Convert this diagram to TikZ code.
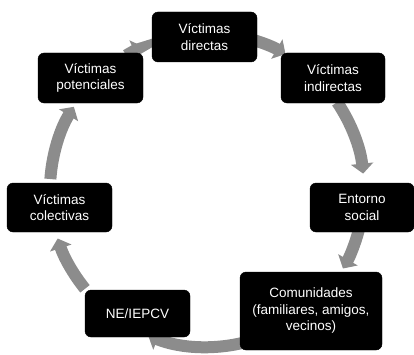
\documentclass[tikz,border=0pt]{standalone}
\usepackage{fontspec}
\setmainfont{Liberation Sans}
\usetikzlibrary{arrows.meta}
\begin{document}
\begin{tikzpicture}[x=1pt,y=1pt,
  box/.style={draw=black,fill=black,rounded corners=6pt,text=white,align=center,
    font=\fontsize{13.5}{16.5}\selectfont,inner sep=1pt},
  ring/.style={draw=black!45,line width=12pt,-{Triangle[length=10pt,width=22pt]}}]
\useasboundingbox (0,0) rectangle (414,354);
\coordinate (c) at (207,164);
% ring segments (clockwise)
\draw[ring] ([shift=(77:157)]c) arc[start angle=77,end angle=60,radius=157];
\draw[ring] ([shift=(34:157)]c) arc[start angle=34,end angle=6,radius=157];
\draw[ring] ([shift=(-15:157)]c) arc[start angle=-15,end angle=-30,radius=157];
\draw[ring] ([shift=(-74:157)]c) arc[start angle=-74,end angle=-112,radius=157];
\draw[ring] ([shift=(-141:157)]c) arc[start angle=-141,end angle=-162,radius=157];
\draw[ring] ([shift=(176:157)]c) arc[start angle=176,end angle=148,radius=157];
\draw[ring] ([shift=(121:157)]c) arc[start angle=121,end angle=114,radius=157];
% boxes
\node[box,minimum width=105pt,minimum height=50pt] (top) at (204.5,317) {Víctimas\\directas};
\node[box,minimum width=104pt,minimum height=50pt] (tr) at (333,276) {Víctimas\\indirectas};
\node[box,minimum width=105pt,minimum height=50pt] (tl) at (90.5,276) {Víctimas\\potenciales};
\node[box,minimum width=105pt,minimum height=49pt] (l) at (59.5,146.5) {Víctimas\\colectivas};
\node[box,minimum width=104pt,minimum height=49pt] (r) at (362,146.5) {Entorno\\social};
\node[box,minimum width=142pt,minimum height=78pt] (br) at (311,43) {Comunidades\\(familiares, amigos,\\vecinos)};
\node[box,minimum width=105pt,minimum height=47pt] (b) at (137.5,40.5) {NE/IEPCV};
\end{tikzpicture}
\end{document}
